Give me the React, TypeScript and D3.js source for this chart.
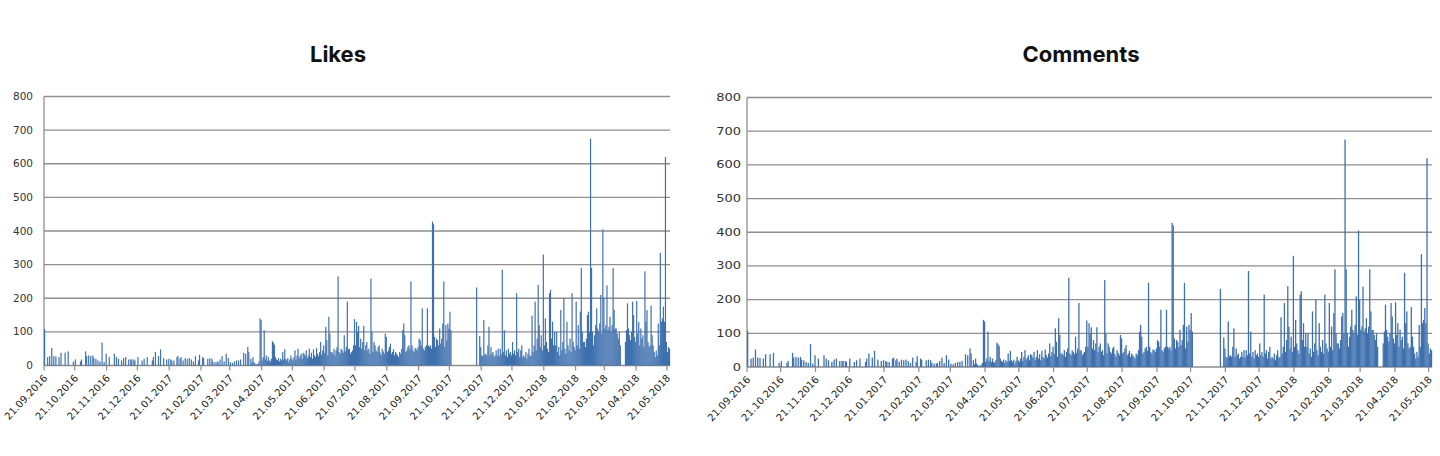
import React from "react";
import * as d3 from "d3";

// daily values, one array per month (first month starts on the 21st)
const sep2016 = [108, 0, 0, 25, 0, 28, 0, 52, 0, 28];
const oct2016 = [0, 27, 0, 0, 25, 0, 38, 0, 0, 0, 38, 0, 0, 42, 0, 0, 0, 0, 12, 0, 18, 0, 0, 0, 0, 12, 18, 0, 0, 0, 42];
const nov2016 = [28, 0, 30, 0, 28, 0, 30, 22, 0, 20, 0, 15, 0, 12, 0, 68, 0, 10, 0, 35, 0, 0, 25, 0, 0, 0, 0, 35, 0, 25];
const dec2016 = [0, 20, 0, 0, 15, 0, 22, 0, 25, 0, 0, 18, 0, 18, 18, 0, 18, 15, 0, 0, 25, 0, 0, 0, 15, 0, 20, 0, 0, 25, 0];
const jan2017 = [0, 0, 0, 15, 25, 0, 40, 0, 0, 28, 0, 48, 0, 0, 22, 0, 0, 18, 0, 20, 0, 18, 15, 0, 15, 0, 0, 25, 28, 0, 20];
const feb2017 = [25, 0, 15, 0, 22, 0, 20, 0, 22, 0, 18, 0, 12, 0, 28, 0, 0, 15, 32, 0, 0, 25, 22, 0, 0, 0, 20, 0];
const mar2017 = [22, 0, 20, 12, 0, 10, 0, 10, 12, 0, 18, 0, 28, 0, 12, 0, 35, 0, 22, 0, 10, 0, 8, 0, 12, 0, 15, 0, 15, 0, 18];
const apr2017 = [0, 0, 38, 0, 35, 0, 55, 40, 0, 20, 8, 25, 10, 6, 0, 5, 5, 12, 140, 135, 15, 25, 105, 18, 30, 14, 25, 15, 12, 20];
const may2017 = [72, 68, 62, 25, 18, 15, 22, 12, 20, 15, 40, 18, 48, 20, 15, 22, 10, 18, 30, 20, 15, 25, 45, 18, 30, 50, 22, 28, 35, 20, 38];
const jun2017 = [35, 28, 45, 22, 30, 50, 25, 38, 20, 48, 30, 25, 52, 35, 28, 40, 70, 32, 45, 60, 38, 115, 75, 30, 145, 95, 40, 40, 35, 50];
const jul2017 = [30, 45, 55, 265, 40, 35, 50, 45, 38, 90, 42, 55, 190, 48, 50, 35, 40, 45, 60, 138, 60, 130, 100, 118, 55, 80, 50, 70, 118, 45, 60];
const aug2017 = [70, 45, 50, 35, 258, 100, 40, 70, 60, 45, 40, 55, 60, 38, 30, 50, 42, 35, 95, 85, 40, 45, 55, 65, 35, 40, 48, 30, 40, 35, 30];
const sep2017 = [25, 40, 35, 50, 105, 125, 90, 40, 45, 55, 60, 48, 250, 60, 45, 40, 52, 50, 45, 55, 80, 75, 60, 170, 50, 45, 55, 60, 170, 60];
const oct2017 = [55, 60, 50, 428, 420, 85, 55, 80, 75, 60, 110, 65, 80, 125, 250, 55, 120, 75, 125, 110, 160, 105, 0, 0, 0, 0, 0, 0, 0, 0, 0];
const nov2017 = [0, 0, 0, 0, 0, 0, 0, 0, 0, 0, 0, 0, 0, 0, 0, 232, 0, 0, 88, 55, 30, 28, 135, 32, 35, 30, 60, 115, 30, 55];
const dec2017 = [35, 40, 25, 30, 45, 30, 50, 28, 50, 35, 285, 40, 105, 30, 45, 25, 50, 35, 40, 30, 70, 35, 45, 30, 215, 40, 50, 25, 45, 60, 25];
const jan2018 = [30, 25, 40, 20, 35, 50, 28, 30, 148, 40, 60, 190, 45, 80, 240, 120, 55, 90, 45, 330, 60, 140, 70, 50, 40, 215, 225, 80, 130, 60, 100];
const feb2018 = [60, 100, 40, 55, 30, 165, 45, 70, 200, 50, 35, 130, 60, 45, 80, 40, 215, 70, 55, 45, 190, 60, 120, 50, 160, 290, 100, 70];
const mar2018 = [70, 55, 80, 150, 160, 100, 675, 290, 100, 60, 90, 120, 170, 110, 100, 125, 210, 95, 405, 200, 110, 120, 238, 105, 115, 145, 100, 120, 290, 165, 110];
const apr2018 = [110, 95, 80, 100, 60, 0, 0, 0, 0, 70, 105, 185, 110, 90, 75, 100, 190, 150, 85, 70, 192, 95, 130, 60, 110, 80, 90, 55, 280, 130];
const may2018 = [165, 70, 55, 60, 178, 90, 60, 40, 25, 45, 30, 125, 60, 335, 130, 140, 175, 130, 620, 70, 40, 55, 50];

const monthStarts = [
  "2016-09-21", "2016-10-01", "2016-11-01", "2016-12-01", "2017-01-01", "2017-02-01", "2017-03-01",
  "2017-04-01", "2017-05-01", "2017-06-01", "2017-07-01", "2017-08-01", "2017-09-01", "2017-10-01",
  "2017-11-01", "2017-12-01", "2018-01-01", "2018-02-01", "2018-03-01", "2018-04-01", "2018-05-01",
];
const monthValues = [
  sep2016, oct2016, nov2016, dec2016, jan2017, feb2017, mar2017, apr2017, may2017, jun2017, jul2017,
  aug2017, sep2017, oct2017, nov2017, dec2017, jan2018, feb2018, mar2018, apr2018, may2018,
];

const tickLabels = [
  "21.09.2016", "21.10.2016", "21.11.2016", "21.12.2016", "21.01.2017", "21.02.2017", "21.03.2017",
  "21.04.2017", "21.05.2017", "21.06.2017", "21.07.2017", "21.08.2017", "21.09.2017", "21.10.2017",
  "21.11.2017", "21.12.2017", "21.01.2018", "21.02.2018", "21.03.2018", "21.04.2018", "21.05.2018",
];
const yTickValues = [0, 100, 200, 300, 400, 500, 600, 700, 800];

const parseDay = d3.timeParse("%Y-%m-%d");
const parseTick = d3.timeParse("%d.%m.%Y");

// the two charts in the source show the same numbers
const likes = monthStarts.flatMap((s, m) =>
  monthValues[m].map((v, i) => ({ date: d3.timeDay.offset(parseDay(s)!, i), value: v }))
);
const comments = likes;

type Row = { date: Date; value: number };

const Panel = ({ title, data, left, right, top, bottom, titleX, labelGap, labelScale }: {
  title: string; data: Row[]; left: number; right: number; top: number; bottom: number;
  titleX: number; labelGap: number; labelScale: number;
}) => {
  const x = d3.scaleTime()
    .domain([parseDay("2016-09-21")!, parseDay("2018-05-24")!])
    .range([left, right]);
  const y = d3.scaleLinear().domain([0, 800]).range([bottom, top]);
  const step = x(parseDay("2016-09-22")!) - x(parseDay("2016-09-21")!);
  const bw = step * 1.15;

  return (
    <g>
      <text x={titleX} y={62} textAnchor="middle" fontFamily="Inter, Lato, sans-serif"
        fontWeight={700} fontSize={22} fill="#111">{title}</text>
      {yTickValues.map((t) => (
        <g key={t}>
          <line x1={left} x2={right} y1={y(t)} y2={y(t)} stroke="#8e8e8e" strokeWidth={1.3} />
          <text transform={`translate(${left - labelGap},${y(t) + 3.5}) scale(${labelScale},1)`}
            textAnchor="end" fontFamily="DejaVu Sans, Verdana, sans-serif" fontSize={10} fill="#333">{t}</text>
        </g>
      ))}
      <line x1={left} x2={left} y1={top} y2={bottom} stroke="#8e8e8e" strokeWidth={1.3} />
      {data.filter((d) => d.value > 0).map((d, i) => (
        <rect key={i} x={x(d.date)} width={bw} y={y(d.value)} height={bottom - y(d.value)} fill="#3f70ae" />
      ))}
      {tickLabels.map((l) => {
        const tx = x(parseTick(l)!);
        return (
          <g key={l}>
            <line x1={tx} x2={tx} y1={bottom} y2={bottom + 5} stroke="#8e8e8e" strokeWidth={1.2} />
            <text transform={`translate(${tx + 4},${bottom + 13}) rotate(-47)`} textAnchor="end"
              fontFamily="DejaVu Sans, Verdana, sans-serif" fontSize={10} fill="#1a1a1a">{l}</text>
          </g>
        );
      })}
    </g>
  );
};

export default function App() {
  return (
    <svg width={1440} height={456} style={{ position: "absolute", left: 0, top: 0, background: "#fff" }}>
      <Panel title="Likes" data={likes} left={44} right={670} top={96.5} bottom={365.5}
        titleX={338} labelGap={11} labelScale={1.05} />
      <Panel title="Comments" data={comments} left={747} right={1432} top={97.5} bottom={367}
        titleX={1081} labelGap={6} labelScale={1.3} />
    </svg>
  );
}
